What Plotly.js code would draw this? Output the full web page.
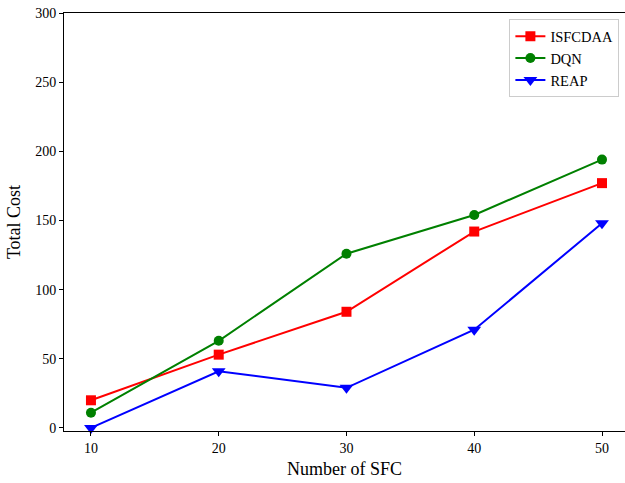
<!DOCTYPE html>
<html>
<head>
<meta charset="utf-8">
<script src="https://cdn.plot.ly/plotly-3.0.1.min.js"></script>
<style>html,body{margin:0;padding:0;background:#fff}#chart{width:625px;height:483px}</style>
</head>
<body>
<div id="chart"></div>
<script>
const sfcCounts = [10, 20, 30, 40, 50];
const isfcdaaCost = [20, 53, 84, 142, 177];
const dqnCost = [11, 63, 126, 154, 194];
const reapCost = [0, 41, 29, 71, 148];
const xTicks = [10, 20, 30, 40, 50];
const yTicks = [0, 50, 100, 150, 200, 250, 300];

const FONT = '"Liberation Serif", serif';

const traces = [
  {x: sfcCounts, y: isfcdaaCost, name: 'ISFCDAA', mode: 'lines+markers', cliponaxis: false,
   line: {color: '#ff0000', width: 2}, marker: {symbol: 'square', size: 10, color: '#ff0000'}},
  {x: sfcCounts, y: dqnCost, name: 'DQN', mode: 'lines+markers', cliponaxis: false,
   line: {color: '#008000', width: 2}, marker: {symbol: 'circle', size: 10, color: '#008000'}},
  {x: sfcCounts, y: reapCost, name: 'REAP', mode: 'lines+markers', cliponaxis: false,
   line: {color: '#0000ff', width: 2}, marker: {symbol: 'triangle-down', size: 12, color: '#0000ff'}}
];

const layout = {
  width: 625, height: 483,
  margin: {l: 64, r: 0, t: 13, b: 52},
  paper_bgcolor: '#fff', plot_bgcolor: '#fff',
  font: {family: FONT, size: 14, color: '#000'},
  showlegend: true,
  legend: {x: 0.99, y: 0.985, xanchor: 'right', yanchor: 'top',
           bgcolor: '#fff', bordercolor: '#cccccc', borderwidth: 1,
           font: {family: FONT, size: 14.5, color: '#000'}, tracegroupgap: 2},
  xaxis: {range: [7.89, 51.8], tickvals: xTicks, ticktext: xTicks.map(String),
          showgrid: false, zeroline: false, showline: true, mirror: true,
          linecolor: '#000', linewidth: 1, ticks: 'outside', ticklen: 4, tickcolor: '#000',
          tickfont: {family: FONT, size: 14, color: '#000'},
          title: {text: 'Number of SFC', font: {family: FONT, size: 18}, standoff: 7}},
  yaxis: {range: [-2.2, 300], tickvals: yTicks, ticktext: yTicks.map(String),
          showgrid: false, zeroline: false, showline: true, mirror: true,
          linecolor: '#000', linewidth: 1, ticks: 'outside', ticklen: 4, tickcolor: '#000',
          tickfont: {family: FONT, size: 14, color: '#000'},
          title: {text: 'Total Cost', font: {family: FONT, size: 18}, standoff: 9}}
};

Plotly.newPlot('chart', traces, layout, {displayModeBar: false, staticPlot: true});
</script>
</body>
</html>
